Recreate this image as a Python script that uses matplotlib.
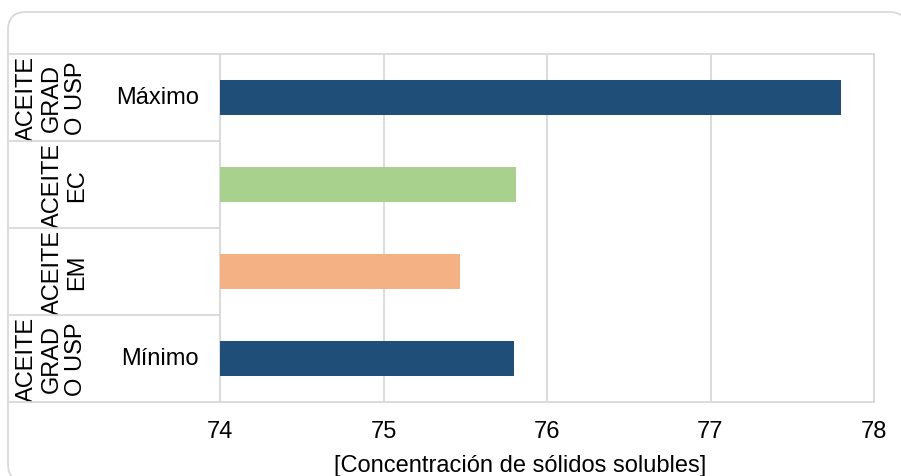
import matplotlib
matplotlib.use("Agg")
import matplotlib.pyplot as plt
from matplotlib import transforms
from matplotlib.patches import FancyBboxPatch
from matplotlib.lines import Line2D

plt.rcParams['font.family'] = ['Liberation Sans', 'DejaVu Sans']

# ==========================
# datos (de abajo hacia arriba)
# ==========================
grupos = ["ACEITE\nGRAD\nO USP", "ACEITE\nEM", "ACEITE\nEC", "ACEITE\nGRAD\nO USP"]
etiquetas = ["Mínimo", "", "", "Máximo"]
valores = [75.8, 75.47, 75.81, 77.8]
colores = ["#1F4E79", "#F4B183", "#A9D18E", "#1F4E79"]
ticks_x = [74, 75, 76, 77, 78]
titulo_x = "[Concentración de sólidos solubles]"

GRIS = "#D9D9D9"
W, H = 901, 477
FS = 17


def fx(px):
    return px / W


def fy(py):
    return 1 - py / H


fig = plt.figure(figsize=(W / 100, H / 100), dpi=100)

# marco redondeado del gráfico: ejes de fondo en píxeles
fondo = fig.add_axes([0, 0, 1, 1], zorder=-1)
fondo.set_xlim(0, W)
fondo.set_ylim(H, 0)
fondo.axis("off")
fondo.add_patch(FancyBboxPatch((8, 13), 899, 470, boxstyle="round,pad=0,rounding_size=18",
                               facecolor="white", edgecolor=GRIS, lw=1.3, clip_on=False))

ax = fig.add_axes([fx(220), fy(403), fx(874) - fx(220), fy(55) - fy(403)])
ax.patch.set_alpha(0)

y = list(range(len(valores)))
ax.barh(y, [v - 74 for v in valores], left=74, height=0.4, color=colores, zorder=3)

ax.set_xlim(74, 78)
ax.set_ylim(-0.5, len(valores) - 0.5)
ax.set_xticks(ticks_x)
ax.set_xticklabels([str(t) for t in ticks_x], fontsize=FS)
ax.set_yticks([])
ax.tick_params(axis='x', length=0, pad=13)
ax.grid(axis='x', color=GRIS, lw=1.3, zorder=0)
for s in ax.spines.values():
    s.set_color(GRIS)
    s.set_linewidth(1.3)

# etiquetas de categorías (dos niveles)
tr = transforms.blended_transform_factory(fig.transFigure, ax.transData)
for i, (g, e) in enumerate(zip(grupos, etiquetas)):
    xg = 51.5 if g.count("\n") == 2 else 65
    ax.text(fx(xg), i, g, transform=tr, rotation=90, ha='center', va='center',
            multialignment='center', fontsize=FS, linespacing=1.15)
    if e:
        ax.text(fx(199), i, e, transform=tr, ha='right', va='center', fontsize=FS)

# separadores del eje de categorías
for b in [k - 0.5 for k in range(len(valores) + 1)]:
    fig.add_artist(Line2D([fx(8), fx(220)], [b, b], transform=tr, color=GRIS, lw=1.3))

fig.text(fx(520), fy(472), titulo_x, ha='center', va='baseline', fontsize=FS)

fig.savefig("out.png", dpi=100)
